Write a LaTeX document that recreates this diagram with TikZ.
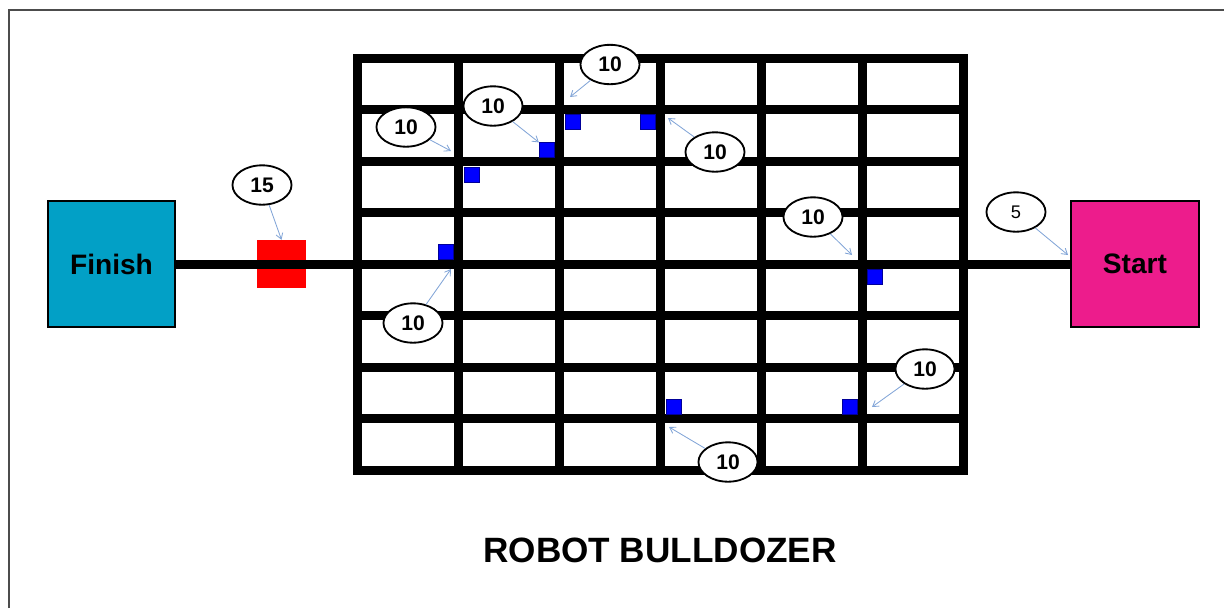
\documentclass[tikz,border=0pt]{standalone}
\usepackage{fontspec}
\setmainfont{Liberation Sans}
\usetikzlibrary{arrows.meta, positioning, shapes.geometric}
\definecolor{finishblue}{RGB}{2,160,198}
\definecolor{startpink}{RGB}{237,28,140}
\definecolor{pointerblue}{RGB}{130,165,215}

\begin{document}
\begin{tikzpicture}[
    x=0.025cm, y=-0.025cm,
    endbox/.style={draw, line width=1.4pt, minimum width=91pt, minimum height=90pt,
                   font=\fontsize{20}{24}\selectfont\bfseries},
    block/.style={draw=blue!60!black, line width=0.3pt, fill=blue, minimum size=10.5pt, inner sep=0pt},
    cost/.style={ellipse, draw, line width=1.3pt, fill=white, minimum width=42pt,
                 minimum height=28pt, inner sep=0pt, font=\fontsize{15}{18}\selectfont\bfseries},
    pointer/.style={draw=pointerblue, line width=0.6pt, -{Straight Barb[length=4pt, width=5pt]}},
    track/.style={line width=6.4pt}
  ]
  \useasboundingbox (0,0) rectangle (1224,608);
  \draw[gray!60!black, line width=1pt] (9,608) -- (9,10) -- (1224,10);

  % start / finish and the obstacle
  \node[endbox, fill=finishblue] (finish) at (111.5,264) {Finish};
  \node[endbox, fill=startpink] (start) at (1135,264) {Start};
  \node[fill=red, minimum width=35pt, minimum height=34pt, inner sep=0pt] (wall) at (281.5,264) {};
  \draw[track] (finish.east) -- (start.west);

  % grid
  \draw[track] (357,58) rectangle (963,470);
  \foreach \i in {1,...,5}
    \draw[track] ({357+101*\i},58) -- ({357+101*\i},470);
  \foreach \j in {1,...,7}
    \draw[track] (357,{58+51.5*\j}) -- (963,{58+51.5*\j});

  % blocks
  \node[block] (b1) at (572.5,122) {};
  \node[block] (b2) at (647.5,122) {};
  \node[block] (b3) at (546.5,150) {};
  \node[block] (b4) at (471.5,174.5) {};
  \node[block] (b5) at (445.5,251.5) {};
  \node[block] (b6) at (874.5,276.5) {};
  \node[block] (b7) at (673.5,406.5) {};
  \node[block] (b8) at (849.5,406.5) {};

  % costs
  \node[cost] (c1) at (610,64.5) {10};
  \node[cost] (c2) at (493,106) {10};
  \node[cost] (c3) at (406,127) {10};
  \node[cost] (c4) at (715,152) {10};
  \node[cost] (c5) at (262,185) {15};
  \node[cost] (c6) at (813,217) {10};
  \node[cost, font=\fontsize{13}{15}\selectfont] (c7) at (1016,212) {5};
  \node[cost] (c8) at (413,323) {10};
  \node[cost] (c9) at (925,369) {10};
  \node[cost] (c10) at (728,462) {10};

  \coordinate (t1) at (570,97);
  \coordinate (t3) at (451,151);
  \coordinate (t4) at (668,118);
  \coordinate (t6) at (852,255);
  \coordinate (t7) at (1068,255);
  \coordinate (t8) at (451,269);
  \coordinate (t9) at (872,407);
  \coordinate (t10) at (669,427);

  \draw[pointer] (c1) -- (t1);
  \draw[pointer] (c2) -- (b3.north west);
  \draw[pointer] (c3) -- (t3);
  \draw[pointer] (c4) -- (t4);
  \draw[pointer] (c5) -- (wall.north);
  \draw[pointer] (c6) -- (t6);
  \draw[pointer] (c7) -- (t7);
  \draw[pointer] (c8) -- (t8);
  \draw[pointer] (c9) -- (t9);
  \draw[pointer] (c10) -- (t10);

  \node[font=\fontsize{25}{30}\selectfont\bfseries] (title) at (660,550) {ROBOT BULLDOZER};
\end{tikzpicture}
\end{document}
